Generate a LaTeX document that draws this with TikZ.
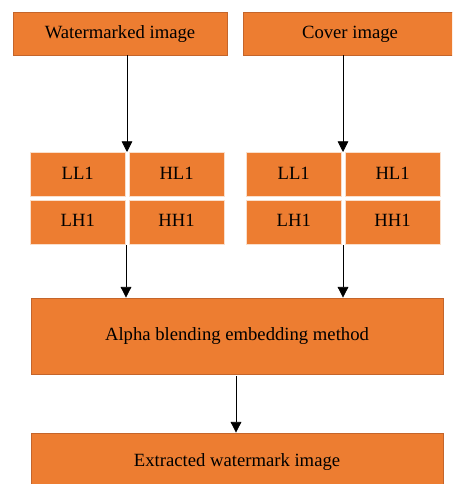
\documentclass[tikz,border=0pt]{standalone}
\usepackage{fontspec}
\setmainfont{Liberation Serif}
\usetikzlibrary{arrows.meta,positioning}
\definecolor{boxfill}{HTML}{ED7D31}
\definecolor{boxline}{HTML}{C4652B}
\tikzset{x=0.75pt, y=-0.75pt,
    block/.style={draw=boxline, line width=0.6pt, fill=boxfill,
        inner sep=0pt, text height=0.68em, text depth=0pt,
        font=\fontsize{14}{16}\selectfont},
    band/.style={fill=boxfill, draw=white!75!boxfill, line width=0.3pt,
        minimum width=71.6pt, minimum height=33pt, inner sep=0pt,
        text height=0.68em, text depth=0pt,
        font=\fontsize{14}{16}\selectfont},
    flow/.style={-{Triangle[width=8pt,length=8pt]}, line width=0.6pt},
    node distance=2.25pt,
    }
\begin{document}
\begin{tikzpicture}
\useasboundingbox (0,0) rectangle (452,484);
\clip (0,0) rectangle (452,484);
% inputs
\node[block, minimum width=160.5pt, minimum height=32.25pt] (wm) at (120,33.5) {Watermarked image};
\node[block, minimum width=160.5pt, minimum height=32.25pt] (cover) at (350,33.5) {Cover image};
% first level DWT sub-bands
\node[band] (wll) at (77.75,174.5) {LL1};
\node[band, right=of wll] (whl) {HL1};
\node[band, below=of wll] (wlh) {LH1};
\node[band, right=of wlh] (whh) {HH1};
\node[band] (cll) at (293.75,174.5) {LL1};
\node[band, right=of cll] (chl) {HL1};
\node[band, below=of cll] (clh) {LH1};
\node[band, right=of clh] (chh) {HH1};
% embedding and result
\node[block, minimum width=309pt, minimum height=57pt] (alpha) at (237,336) {Alpha blending embedding method};
\node[block, minimum width=309pt, minimum height=43.5pt] (extr) at (237,462) {Extracted watermark image};
\coordinate (wtop) at (127,152);
\coordinate (ctop) at (343,152);
\coordinate (wbot) at (126,245);
\coordinate (cbot) at (343,245);
\draw[flow] (wm.south -| wtop) -- (wtop);
\draw[flow] (cover.south -| ctop) -- (ctop);
\draw[flow] (wbot) -- (wbot |- alpha.north);
\draw[flow] (cbot) -- (cbot |- alpha.north);
\draw[flow] ([yshift=-1.5pt]alpha.south -| 236,0) -- (extr.north -| 236,0);
\end{tikzpicture}
\end{document}
